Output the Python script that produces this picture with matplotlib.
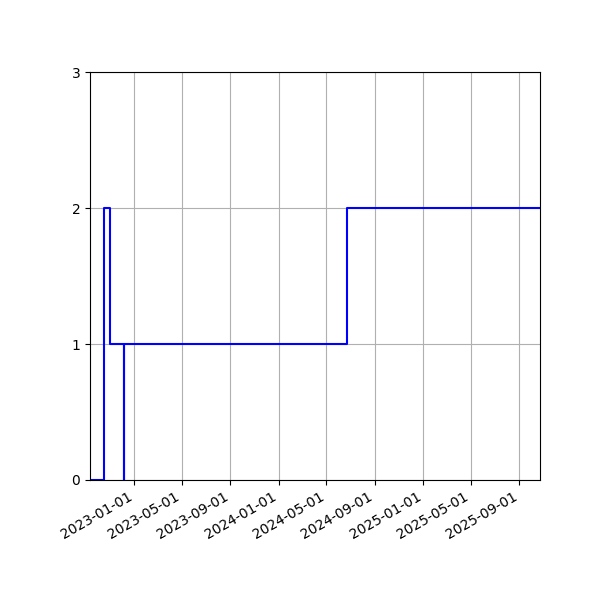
import numpy as np
import pandas as pd
import matplotlib
matplotlib.use("Agg")
import matplotlib.pyplot as plt
import matplotlib.dates as mdates

# change points of the active count (same-day end + start at 2022-12-07)
dates = pd.to_datetime([
    "2022-09-11", "2022-10-17", "2022-10-31", "2022-12-07",
    "2022-12-07", "2024-06-21", "2025-10-23",
])
counts = [0, 2, 1, 0, 1, 2, 2]

x_start = pd.Timestamp("2022-09-11")
x_end = pd.Timestamp("2025-10-23")

fig, ax = plt.subplots(figsize=(6, 6), dpi=100)
ax.step(dates, counts, where="post", color="blue")

ax.set_xlim(x_start, x_end)
ax.set_ylim(0, 3)
ax.set_yticks([0, 1, 2, 3])
ax.xaxis.set_major_locator(mdates.MonthLocator(bymonth=[1, 5, 9]))
ax.xaxis.set_major_formatter(mdates.DateFormatter("%Y-%m-%d"))
ax.grid(True)

fig.autofmt_xdate()
fig.subplots_adjust(left=0.15, right=0.9, top=0.88, bottom=0.2)
fig.savefig("out.png")
